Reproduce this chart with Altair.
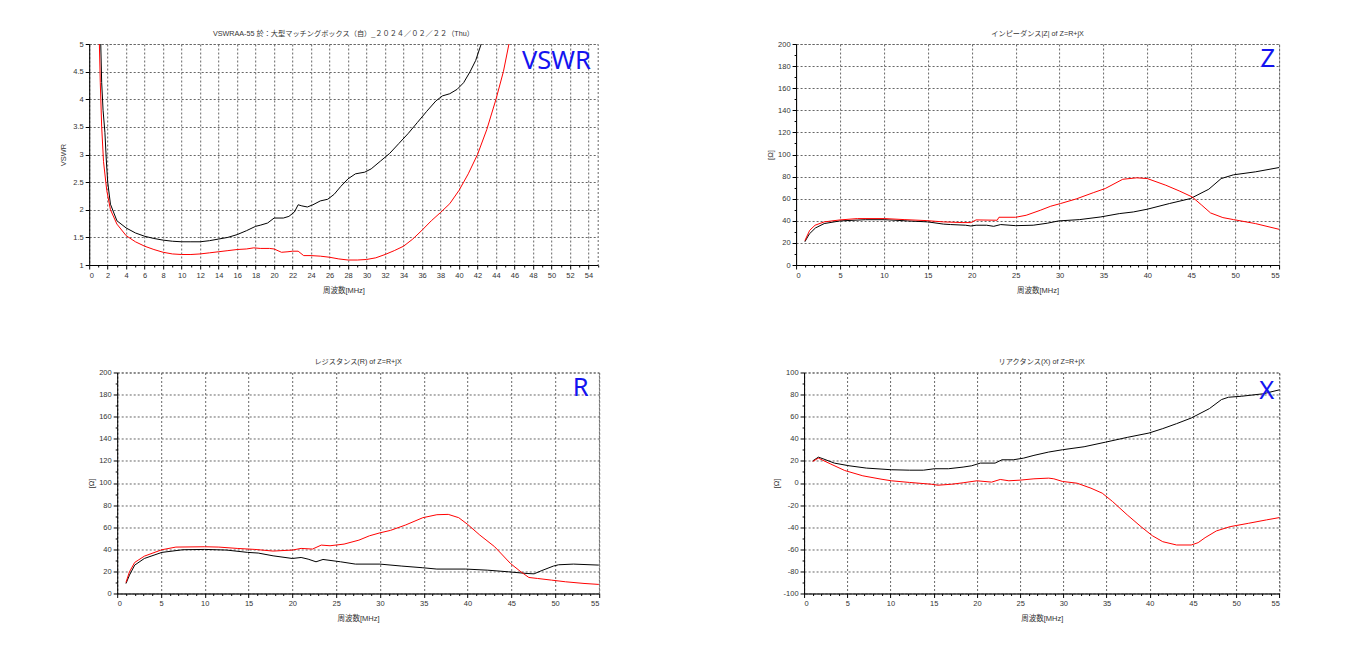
import altair as alt
import pandas as pd

# ---------------- data ----------------
vswr_black_f = [1.0, 1.25, 1.35, 1.5, 1.7, 1.85, 2.0, 2.3, 3.0, 4.0, 5.0, 6.0, 7.0, 8.0, 9.0, 10.0, 11.0, 12.0,
                13.0, 14.0, 15.0, 16.0, 17.0, 18.0, 18.5, 19.3, 20.0, 21.0, 21.6, 22.2, 22.6, 23.0, 23.6, 24.2,
                25.0, 25.8, 26.5, 27.2, 28.0, 28.8, 29.8, 30.5, 31.5, 32.5, 33.5, 34.5, 35.5, 36.5, 37.5, 38.2,
                39.0, 39.8, 40.5, 41.2, 41.8, 42.4, 43.0]
vswr_black_v = [7.0, 5.0, 4.3, 3.8, 3.4, 2.9, 2.5, 2.1, 1.8, 1.67, 1.58, 1.52, 1.48, 1.45, 1.43, 1.42, 1.42, 1.42,
                1.44, 1.47, 1.50, 1.55, 1.62, 1.70, 1.72, 1.76, 1.85, 1.85, 1.88, 1.96, 2.09, 2.07, 2.05, 2.09,
                2.16, 2.19, 2.28, 2.42, 2.56, 2.65, 2.68, 2.74, 2.88, 3.02, 3.20, 3.38, 3.58, 3.78, 3.97, 4.06,
                4.10, 4.18, 4.30, 4.50, 4.70, 5.00, 5.40]
vswr_red_f = [1.0, 1.1, 1.2, 1.35, 1.55, 1.9, 2.3, 3.0, 4.0, 5.0, 6.0, 7.0, 8.0, 9.0, 10.0, 11.0, 12.0, 13.0,
              14.0, 15.0, 16.0, 17.0, 17.8, 18.5, 19.5, 20.0, 20.8, 21.5, 22.0, 22.6, 23.2, 24.0, 25.0, 26.0,
              27.0, 28.0, 29.0, 30.0, 31.0, 32.0, 33.0, 34.0, 35.0, 36.0, 37.0, 38.0, 39.0, 40.0, 41.0, 42.0,
              43.0, 44.0, 44.8, 45.4, 46.0]
vswr_red_v = [6.0, 5.0, 4.3, 3.5, 2.87, 2.35, 2.0, 1.74, 1.53, 1.42, 1.34, 1.28, 1.23, 1.20, 1.19, 1.19, 1.20,
              1.22, 1.24, 1.26, 1.28, 1.29, 1.31, 1.30, 1.30, 1.29, 1.23, 1.24, 1.25, 1.25, 1.17, 1.17, 1.16,
              1.14, 1.11, 1.09, 1.09, 1.10, 1.13, 1.19, 1.26, 1.34, 1.47, 1.63, 1.80, 1.95, 2.11, 2.35, 2.65,
              3.00, 3.45, 4.00, 4.50, 5.00, 5.60]

z_black_f = [1.0, 1.5, 2.2, 3.2, 5.0, 7.9, 10.1, 12.7, 15.0, 16.8, 17.6, 19.3, 19.9, 20.5, 21.7, 22.5, 23.3,
             25.0, 27.0, 28.6, 29.9, 32.3, 34.7, 36.8, 38.4, 40.0, 42.5, 44.9, 47.0, 48.4, 49.8, 52.3, 55.0]
z_black_v = [21, 28, 33.5, 37.5, 39.9, 41, 41, 39.9, 39, 37, 36.6, 36, 35.3, 36, 36, 35, 36.6,
             35.6, 36, 37.8, 39.9, 41.1, 43.5, 46.5, 48, 50.5, 55.6, 60.1, 68.6, 78.2, 81.6, 84.3, 88.2]
z_red_f = [1.0, 1.55, 2.16, 3.2, 5.0, 7.0, 10.1, 12.3, 14.8, 16.8, 18.9, 19.9, 20.5, 22.9, 23.1, 25.0, 26.2,
           27.8, 29.0, 30.1, 31.9, 33.9, 35.2, 37.2, 38.8, 40.0, 42.1, 43.7, 45.1, 46.2, 47.2, 48.6, 49.8,
           52.3, 55.0]
z_red_v = [22, 31.4, 36, 39, 40.8, 42, 42, 41.1, 40.2, 39, 38.4, 38.4, 40.8, 40.5, 43.2, 43.2, 45,
           49.5, 53.2, 55.6, 59.8, 65.6, 69.2, 77.6, 78.9, 78.2, 72.2, 66.8, 61.6, 54.1, 47.1, 42.9, 41.1,
           37.5, 32.3]

r_black_f = [1.0, 1.4, 2.0, 3.1, 5.1, 7.5, 10.0, 12.5, 14.9, 16.1, 17.8, 20.0, 21.0, 21.8, 22.7, 23.5, 25.5,
             27.2, 30.0, 32.5, 34.9, 36.5, 39.8, 42.3, 44.7, 46.8, 47.6, 48.4, 49.8, 50.4, 52.1, 55.0]
r_black_v = [9, 16.6, 25.7, 31.7, 37.2, 39.6, 39.9, 39.3, 37.2, 36.6, 34.1, 31.7, 32.6, 31.1, 28.7, 30.8, 28.7,
             26.6, 26.6, 24.8, 23.3, 22.1, 22.1, 21.1, 19.6, 18.1, 17.8, 20.5, 24.8, 26.0, 26.6, 25.7]
r_red_f = [1.0, 1.4, 2.0, 3.1, 5.1, 6.7, 10.0, 11.6, 13.7, 15.7, 17.8, 20.0, 21.0, 22.3, 23.3, 24.3, 25.9,
           27.6, 28.8, 30.0, 31.2, 32.9, 34.9, 36.5, 37.8, 39.0, 40.0, 41.4, 43.1, 44.9, 46.0, 47.0, 48.0,
           49.6, 51.2, 53.3, 55.0]
r_red_v = [10, 19.6, 28.1, 33.8, 39.6, 42, 42.3, 42, 40.8, 39.9, 38.4, 39.3, 40.8, 40.2, 43.8, 43.2, 44.7,
           48.3, 52.2, 54.9, 57.1, 61.9, 68.6, 71.3, 71.6, 68.6, 62.6, 52.9, 42.3, 27.2, 20.2, 14.5, 13.6,
           12.1, 10.6, 9.1, 8.2]

x_black_f = [1.0, 1.65, 2.3, 3.5, 5.2, 7.2, 10.1, 12.2, 13.8, 15.1, 16.7, 18.4, 19.4, 20.4, 22.1, 22.9, 24.2,
             25.4, 26.6, 28.3, 29.9, 32.4, 34.9, 37.4, 39.9, 41.5, 43.1, 44.8, 46.9, 48.3, 49.1, 50.6, 53.1, 55.0]
x_black_v = [20, 23.4, 21.6, 18, 15.6, 13.5, 12, 11.6, 11.6, 12.9, 12.9, 14.4, 15.6, 18, 18, 21, 21,
             22.5, 25, 28, 30.1, 32.8, 37, 41.3, 45.2, 49.2, 53.7, 58.8, 67.3, 75.5, 77.6, 78.5, 80.7, 84.3]
x_red_f = [1.0, 1.65, 3.1, 4.7, 6.8, 8.9, 10.1, 12.2, 14.7, 15.5, 17.1, 18.4, 20.0, 21.7, 22.7, 23.7, 25.0,
           26.6, 28.3, 28.9, 29.9, 31.6, 33.2, 34.5, 35.7, 37.4, 39.0, 40.3, 41.5, 43.1, 44.8, 45.6, 46.4,
           47.7, 49.3, 51.4, 53.5, 55.0]
x_red_v = [19.5, 22.5, 17.1, 11.3, 6.5, 3.5, 2.0, 0.5, -1.1, -2, -1.1, 0.2, 2, 0.8, 3.2, 2, 2.6,
           3.8, 4.4, 3.8, 1.4, -0.2, -4.7, -9.2, -16.8, -28.9, -39.6, -47.7, -53.1, -56.1, -56.1, -54, -49.5,
           -43.4, -39.5, -36.5, -33.4, -31.3]

titles = ["VSWRAA-55 於：大型マッチングボックス（自）_２０２４／０２／２２（Thu）",
          "インピーダンス|Z| of Z=R+jX",
          "レジスタンス(R) of Z=R+jX",
          "リアクタンス(X) of Z=R+jX"]
tags = ["VSWR", "Z", "R", "X"]
x_title = "周波数[MHz]"

FONT = "Liberation Sans, Noto Sans CJK JP, sans-serif"
TXT = "#333333"


def panel(fb, vb, fr, vr, ymin, ymax, ymajor, yminor, xmajor, ytitle, title, w, h,
          tag, tag_x, tag_y, ytp):
    n = int(round((ymax - ymin) / yminor))
    yvals = [round(ymin + i * yminor, 4) for i in range(n + 1)]
    xvals = list(range(0, 56))
    xt = f"datum.value % {xmajor} === 0"
    yt = f"abs(datum.value % {ymajor}) < 1e-6"
    x_axis = alt.Axis(values=xvals, labelExpr=f"{xt} ? '' + datum.value : ''", labelOverlap=False,
                      tickSize={"condition": {"test": xt, "value": 4}, "value": 2},
                      gridOpacity={"condition": {"test": xt, "value": 1}, "value": 0},
                      labelPadding=2, titlePadding=8)
    y_axis = alt.Axis(values=yvals, labelExpr=f"{yt} ? '' + datum.value : ''", labelOverlap=False,
                      tickSize={"condition": {"test": yt, "value": 4}, "value": 2},
                      gridOpacity={"condition": {"test": yt, "value": 1}, "value": 0},
                      labelPadding=2, titlePadding=ytp)
    xe = alt.X("f:Q", scale=alt.Scale(domain=[0, 55], nice=False, zero=False), axis=x_axis, title=x_title)
    ye = alt.Y("v:Q", scale=alt.Scale(domain=[ymin, ymax], nice=False, zero=False), axis=y_axis, title=ytitle)
    black = alt.Chart(pd.DataFrame({"f": fb, "v": vb})).mark_line(
        color="#000000", strokeWidth=1, clip=True).encode(x=xe, y=ye)
    red = alt.Chart(pd.DataFrame({"f": fr, "v": vr})).mark_line(
        color="#ff0000", strokeWidth=1, clip=True).encode(x=xe, y=ye)
    lab = alt.Chart(pd.DataFrame({"f": [tag_x], "v": [tag_y], "t": [tag]})).mark_text(
        align="right", baseline="middle", fontSize=25.5, font="Noto Sans", color="#1414f0").encode(
        x=xe, y=ye, text="t:N")
    return alt.layer(black, red, lab).properties(
        width=w, height=h,
        title=alt.TitleParams(title, fontSize=7.2, font=FONT, color=TXT, fontWeight="normal",
                              offset=3, frame="group"))


A = panel(vswr_black_f, vswr_black_v, vswr_red_f, vswr_red_v, 1, 5, 0.5, 0.5, 2, "VSWR", titles[0],
          508.5, 221, tags[0], 54.25, 4.70, 5.3)
B = panel(z_black_f, z_black_v, z_red_f, z_red_v, 0, 200, 20, 10, 5, "[Ω]", titles[1],
          483, 221, tags[1], 54.55, 186.8, 3.3)
C = panel(r_black_f, r_black_v, r_red_f, r_red_v, 0, 200, 20, 10, 5, "[Ω]", titles[2],
          481.7, 221, tags[2], 53.83, 186.2, 3.5)
D = panel(x_black_f, x_black_v, x_red_f, x_red_v, -100, 100, 20, 10, 5, "[Ω]", titles[3],
          475.3, 221, tags[3], 54.4, 83.5, 3)


def spacer(w):
    return alt.Chart(pd.DataFrame({"a": [0]})).mark_point(opacity=0).properties(
        width=w, height=10, view=alt.ViewBackground(stroke="transparent"))


row1 = alt.hconcat(spacer(1), alt.hconcat(A, B, spacing=165.9), spacing=0)
row2 = alt.hconcat(spacer(30.9), alt.hconcat(C, D, spacing=170.9), spacing=0)

chart = alt.vconcat(row1, row2, spacing=62.5).properties(
    padding={"left": 43.2, "top": 21, "right": 5, "bottom": 5}
).configure_view(
    stroke="#666666", strokeDash=[2, 2], strokeWidth=1
).configure_axis(
    labelFont=FONT, labelFontSize=7.5, labelColor=TXT,
    titleFont=FONT, titleFontSize=7.5, titleColor=TXT, titleFontWeight="normal",
    domainColor="#000000", domainWidth=1, tickColor="#000000", tickWidth=1,
    gridColor="#666666", gridDash=[2, 2], gridWidth=1
)

chart.save("out.html", embed_options={"renderer": "svg", "actions": False})
